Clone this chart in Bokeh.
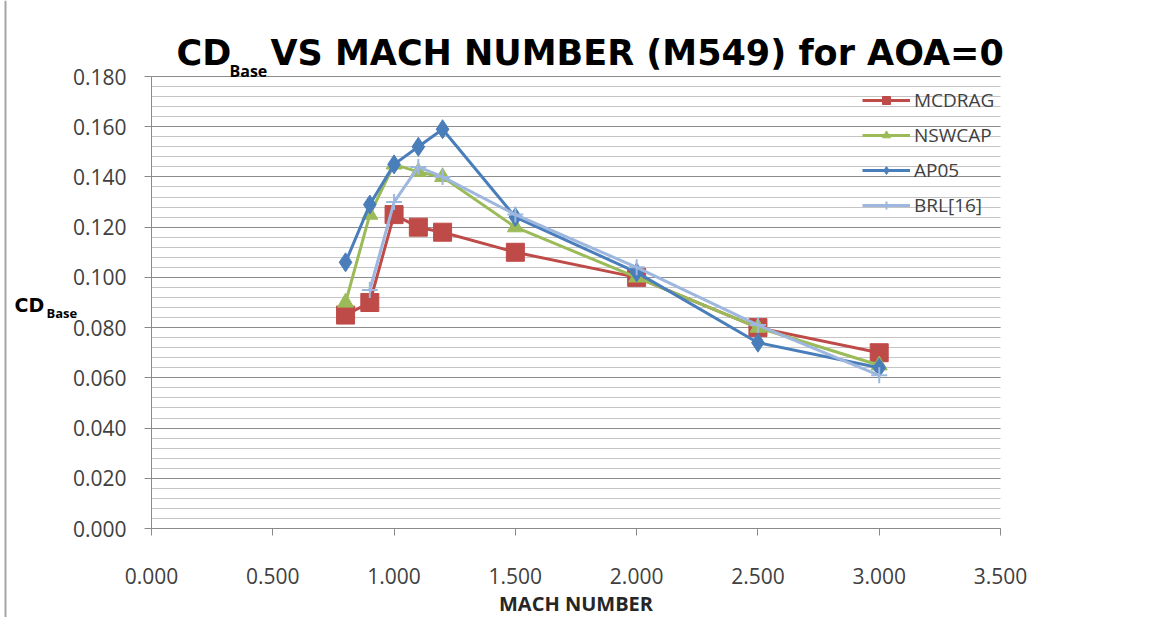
from bokeh.plotting import figure
from bokeh.models import (Range1d, Label, Legend, LegendItem, NumeralTickFormatter, FixedTicker,
                          Grid, BoxAnnotation)
from bokeh.embed import file_html
from bokeh.resources import INLINE

# ---- data ----
mach_mcdrag = [0.8, 0.9, 1.0, 1.1, 1.2, 1.5, 2.0, 2.5, 3.0]
cd_mcdrag = [0.085, 0.090, 0.125, 0.120, 0.118, 0.110, 0.100, 0.080, 0.070]
mach_nswcap = [0.8, 0.9, 1.0, 1.1, 1.2, 1.5, 2.0, 2.5, 3.0]
cd_nswcap = [0.090, 0.125, 0.145, 0.142, 0.140, 0.120, 0.100, 0.080, 0.065]
mach_ap05 = [0.8, 0.9, 1.0, 1.1, 1.2, 1.5, 2.0, 2.5, 3.0]
cd_ap05 = [0.106, 0.129, 0.145, 0.152, 0.159, 0.124, 0.102, 0.074, 0.064]
mach_brl = [0.9, 1.0, 1.1, 1.2, 1.5, 2.0, 2.5, 3.0]
cd_brl = [0.095, 0.130, 0.144, 0.140, 0.125, 0.104, 0.081, 0.061]

x_ticks = [0.0, 0.5, 1.0, 1.5, 2.0, 2.5, 3.0, 3.5]
y_ticks = [0.0, 0.02, 0.04, 0.06, 0.08, 0.10, 0.12, 0.14, 0.16, 0.18]
y_minor = [i * 0.004 for i in range(46)]
X_MIN, X_MAX = 0.0, 3.5
Y_MIN, Y_MAX = 0.0, 0.18

# ---- layout: plot-area pixel box inside the canvas ----
W, H = 1143, 617
PX_L, PX_R, PX_T, PX_B = 151, 1000, 76, 528
SX = (PX_R - PX_L) / (X_MAX - X_MIN)
SY = (PX_B - PX_T) / (Y_MAX - Y_MIN)
def dx(px):
    return X_MIN + (px - PX_L) / SX
def dy(py):
    return Y_MIN + (PX_B - py) / SY

p = figure(width=W, height=H, output_backend="svg", toolbar_location=None,
           x_range=Range1d(dx(0), dx(W)), y_range=Range1d(dy(H), dy(0)),
           min_border=0, min_border_left=0, min_border_right=0, min_border_top=0, min_border_bottom=0)
p.outline_line_color = None
p.background_fill_color = "white"
p.border_fill_color = "white"
p.title.visible = False

TICK_FONT = "Open Sans"
xa, ya = p.xaxis[0], p.yaxis[0]
xa.fixed_location = Y_MIN
ya.fixed_location = X_MIN
xa.bounds = (X_MIN, X_MAX)
ya.bounds = (Y_MIN, Y_MAX)
for ax in (xa, ya):
    ax.formatter = NumeralTickFormatter(format="0.000")
    ax.axis_line_color = "#8a8a8a"
    ax.major_tick_line_color = "#8a8a8a"
    ax.major_tick_out = 7
    ax.major_tick_in = 0
    ax.minor_tick_out = 0
    ax.minor_tick_in = 0
    ax.major_label_text_font = TICK_FONT
    ax.major_label_text_font_size = "21px"
    ax.major_label_text_color = "#404040"
xa.ticker = FixedTicker(ticks=x_ticks)
ya.ticker = FixedTicker(ticks=y_ticks, minor_ticks=y_minor)
xa.major_label_standoff = 32
ya.major_label_standoff = 18

p.xgrid.grid_line_color = None
yg = p.ygrid[0]
yg.grid_line_color = "#8c8c8c"
yg.grid_line_width = 1
yg.minor_grid_line_color = "#c4c4c4"
yg.minor_grid_line_width = 1
yg.bounds = (Y_MIN, Y_MAX)
if "cross_bounds" in Grid.properties():
    yg.cross_bounds = (X_MIN, X_MAX)
else:
    for kw in ({"right": X_MIN}, {"left": X_MAX}):
        p.add_layout(BoxAnnotation(fill_color="white", fill_alpha=1, line_color=None,
                                   level="underlay", **kw), "center")

# chart-area border at the left edge
p.add_layout(BoxAnnotation(left=dx(4), right=dx(6), fill_color="#a6a6a6", fill_alpha=1,
                           line_color=None, level="underlay"), "center")

RED, GREEN, BLUE, LBLUE = "#BE4B48", "#9BBB59", "#4A7EBB", "#9DB7DE"
LW = 3

r1l = p.line(mach_mcdrag, cd_mcdrag, line_color=RED, line_width=LW)
r1m = p.scatter(mach_mcdrag, cd_mcdrag, marker="square", size=18, fill_color=RED, line_color=RED)
r2l = p.line(mach_nswcap, cd_nswcap, line_color=GREEN, line_width=LW)
r2m = p.scatter(mach_nswcap, cd_nswcap, marker="triangle", size=16, fill_color=GREEN, line_color=GREEN)
r3l = p.line(mach_ap05, cd_ap05, line_color=BLUE, line_width=LW)
r3m = p.scatter(mach_ap05, cd_ap05, marker="diamond", size=19, fill_color=BLUE, line_color=BLUE)
r4l = p.line(mach_brl, cd_brl, line_color=LBLUE, line_width=LW)
r4m = p.scatter(mach_brl, cd_brl, marker="cross", size=16, line_color=LBLUE, line_width=2)

# legend: location is the bottom-left corner, measured from the canvas bottom
legend = Legend(items=[
    LegendItem(label="MCDRAG", renderers=[r1l, r1m]),
    LegendItem(label="NSWCAP", renderers=[r2l, r2m]),
    LegendItem(label="AP05", renderers=[r3l, r3m]),
    LegendItem(label="BRL[16]", renderers=[r4l, r4m]),
], location=(862, H - 218))
legend.background_fill_alpha = 0
legend.border_line_color = None
legend.glyph_width = 48
legend.glyph_height = 20
legend.label_height = 20
legend.spacing = 9
legend.margin = 0
legend.padding = 0
legend.label_standoff = 4
legend.label_text_font = "Open Sans"
legend.label_text_font_size = "19px"
legend.label_text_color = "#404040"
p.add_layout(legend, "center")

def lab(px, py, text, font, size, align="left", color="#000000"):
    p.add_layout(Label(x=dx(px), y=dy(py), text=text, text_font=font, text_font_style="bold",
                       text_font_size=size, text_color=color, text_align=align,
                       text_baseline="middle"))

TFONT = "DejaVu Sans"
# Title
lab(176, 52, "CD", TFONT, "35px")
lab(229, 70, "Base", "Open Sans", "16px")
lab(270, 52, "VS MACH NUMBER (M549) for AOA=0", TFONT, "35px")
# Y axis title
lab(14, 304, "CD", TFONT, "19px")
lab(46, 312, "Base", "Open Sans", "13px")
# X axis title
lab((PX_L + PX_R) / 2, 603, "MACH NUMBER", "Open Sans", "20px", align="center", color="#262626")

open("out.html", "w").write(file_html(p, INLINE))
